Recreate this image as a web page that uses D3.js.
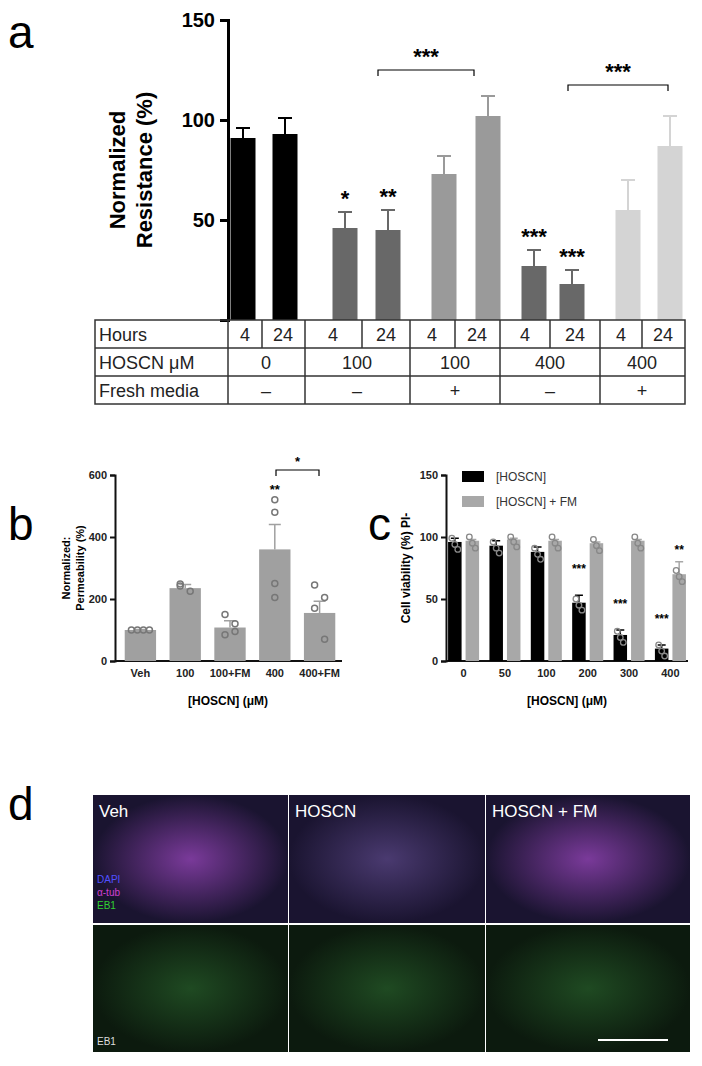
<!DOCTYPE html><html><head><meta charset="utf-8"><script src="https://cdn.jsdelivr.net/npm/d3@7"></script>
<style>body{margin:0;background:#fff}text{font-family:Arial,"Liberation Sans",sans-serif}</style></head><body><svg id="s" width="702" height="1066"></svg><script>
const aLabels=["4","24","4","24","4","24","4","24","4","24"];
const aValues=[91,93,46,45,73,102,27,18,55,87];
const aErr=[5,8,8,10,9,10,8,7,15,15];
const aStars=["","","*","**","","","***","***","",""];
const aColors=["#000","#000","#686868","#686868","#9a9a9a","#9a9a9a","#686868","#686868","#d4d4d4","#d4d4d4"];
const aTicks=[50,100,150];
const bCats=["Veh","100","100+FM","400","400+FM"];
const bValues=[100,235,108,360,155];
const bErr=[2,12,22,80,38];
const bPoints=[[100,100,100,100],[248,225,242],[150,120,85,95],[520,480,250,205],[245,205,170,70]];
const cCats=["0","50","100","200","300","400"];
const cBlack=[96,93,88,47,21,10];
const cGray=[97,98,97,95,97,70];
const cBlackErr=[3,4,4,6,4,3];
const cGrayErr=[1,1,1,1,1,10];
const cBlackStars=["","","","***","***","***"];
const cGrayStars=["","","","","","**"];
const svg=d3.select("#s");
function letter(t,x,y){svg.append("text").attr("x",x).attr("y",y).attr("font-size",46).attr("font-family","Calibri,Carlito,'Open Sans',sans-serif").text(t);}
letter("a",8,48);letter("b",8,540);letter("c",368,540);letter("d",8,820);
// Panel a
const ya=d3.scaleLinear().domain([0,150]).range([320,20]);
const xa=d3.scaleBand().domain(d3.range(10)).range([228,690]).paddingInner(0.3).paddingOuter(0.3);
const pos=[243,285,345,388,444,488,534,572,628,670];
const ga=svg.append("g").attr("transform","translate(228,0)");
ga.call(d3.axisLeft(ya).tickValues(aTicks).tickSize(8)).call(g=>{g.selectAll("path,line").attr("stroke","#000").attr("stroke-width",3);g.selectAll("text").attr("font-size",20).attr("font-weight","bold").attr("dx",-2);});
svg.append("text").attr("transform","translate(125,170) rotate(-90)").attr("text-anchor","middle").attr("font-size",22).attr("font-weight","bold").selectAll("tspan").data(["Normalized","Resistance (%)"]).join("tspan").attr("x",0).attr("dy",(d,i)=>i?27:0).text(d=>d);
aValues.forEach((v,i)=>{const x=pos[i],w=25;
 svg.append("line").attr("x1",x).attr("x2",x).attr("y1",ya(v)).attr("y2",ya(v+aErr[i])).attr("stroke",aColors[i]).attr("stroke-width",2);
 svg.append("line").attr("x1",x-7).attr("x2",x+7).attr("y1",ya(v+aErr[i])).attr("y2",ya(v+aErr[i])).attr("stroke",aColors[i]).attr("stroke-width",2);
 svg.append("rect").attr("x",x-w/2).attr("y",ya(v)).attr("width",w).attr("height",ya(0)-ya(v)).attr("fill",aColors[i]);
 if(aStars[i])svg.append("text").attr("x",x).attr("y",ya(v+aErr[i])-6).attr("text-anchor","middle").attr("font-size",22).attr("font-weight","bold").text(aStars[i]);
});
function bracket(x1,x2,y,t,fs,yo){svg.append("path").attr("d",`M${x1},${y+6}V${y}H${x2}V${y+6}`).attr("fill","none").attr("stroke","#000").attr("stroke-width",1.2);svg.append("text").attr("x",(x1+x2)/2).attr("y",y-yo).attr("text-anchor","middle").attr("font-size",fs).attr("font-weight","bold").text(t);}
bracket(378,474,70,"***",22,6);bracket(568,668,85,"***",22,6);
// table
const tb=svg.append("g").attr("stroke","#333").attr("stroke-width",1.5).attr("fill","none");
tb.append("rect").attr("x",95).attr("y",320).attr("width",590).attr("height",84);
[348,376].forEach(y=>tb.append("line").attr("x1",95).attr("x2",685).attr("y1",y).attr("y2",y));
[228,305,410,500,600].forEach(x=>tb.append("line").attr("x1",x).attr("x2",x).attr("y1",320).attr("y2",404));
[262,362,455,550,642].forEach(x=>tb.append("line").attr("x1",x).attr("x2",x).attr("y1",320).attr("y2",348));
const tf=s=>s.attr("font-size",18).attr("font-family","Calibri,Carlito,'Open Sans',sans-serif").attr("fill","#222");
[["Hours",341],["HOSCN μM",369],["Fresh media",397]].forEach(d=>tf(svg.append("text").attr("x",99).attr("y",d[1]).text(d[0])));
const cx=[245,283,333,386,432,477,525,575,621,663];
aLabels.forEach((l,i)=>tf(svg.append("text").attr("x",cx[i]).attr("y",341).attr("text-anchor","middle").text(l)));
[["0",266],["100",357],["100",455],["400",550],["400",642]].forEach(d=>tf(svg.append("text").attr("x",d[1]).attr("y",369).attr("text-anchor","middle").text(d[0])));
[["–",266],["–",357],["+",455],["–",550],["+",642]].forEach(d=>tf(svg.append("text").attr("x",d[1]).attr("y",397).attr("text-anchor","middle").text(d[0])));
// Panel b
const yb=d3.scaleLinear().domain([0,600]).range([661,475]);
const xb=d3.scaleBand().domain(bCats).range([118,342]).paddingInner(0.3).paddingOuter(0.15);
function styleAxis(g){g.selectAll("path,line").attr("stroke","#111").attr("stroke-width",2);g.selectAll("text").attr("font-size",11).attr("font-weight","bold").attr("fill","#222");}
svg.append("g").attr("transform","translate(115,0)").call(d3.axisLeft(yb).tickValues([0,200,400,600]).tickSize(5)).call(styleAxis);
svg.append("g").attr("transform","translate(0,661)").call(d3.axisBottom(xb).tickSize(0).tickPadding(8)).call(styleAxis).call(g=>g.select("path").attr("d","M115,0H342"));
bCats.forEach((c,i)=>{const x=xb(c),w=xb.bandwidth(),m=x+w/2,v=bValues[i];
 svg.append("rect").attr("x",x).attr("y",yb(v)).attr("width",w).attr("height",yb(0)-yb(v)).attr("fill","#a0a0a0");
 svg.append("path").attr("d",`M${m},${yb(v)}V${yb(v+bErr[i])}M${m-6},${yb(v+bErr[i])}H${m+6}`).attr("stroke","#a0a0a0").attr("stroke-width",1.5);
 bPoints[i].forEach((p,j)=>svg.append("circle").attr("cx",m+(bPoints[i].length>3&&i==0?(j-1.5)*6:(j%2?5:-5)*(i==3?0:1))).attr("cy",yb(p)).attr("r",3).attr("fill","none").attr("stroke","#777").attr("stroke-width",1.5));
});
svg.append("text").attr("x",xb("400")+xb.bandwidth()/2).attr("y",494).attr("text-anchor","middle").attr("font-size",13).attr("font-weight","bold").text("**");
bracket(276,319,470,"*",13,4);
svg.append("text").attr("transform","translate(70,568) rotate(-90)").attr("text-anchor","middle").attr("font-size",11).attr("font-weight","bold").selectAll("tspan").data(["Normalized:","Permeability (%)"]).join("tspan").attr("x",0).attr("dy",(d,i)=>i?14:0).text(d=>d);
svg.append("text").attr("x",228).attr("y",705).attr("text-anchor","middle").attr("font-size",12).attr("font-weight","bold").text("[HOSCN] (μM)");
// Panel c
const yc=d3.scaleLinear().domain([0,150]).range([661,475]);
const xc=d3.scaleBand().domain(cCats).range([446,688]).paddingInner(0.25).paddingOuter(0.05);
svg.append("g").attr("transform","translate(446,0)").call(d3.axisLeft(yc).tickValues([0,50,100,150]).tickSize(5)).call(styleAxis);
svg.append("g").attr("transform","translate(0,661)").call(d3.axisBottom(xc).tickSize(0).tickPadding(8)).call(styleAxis).call(g=>g.select("path").attr("d","M446,0H688"));
cCats.forEach((c,i)=>{const x=xc(c),bw=xc.bandwidth()/2-2;
 [[cBlack[i],cBlackErr[i],"#000",x,cBlackStars[i]],[cGray[i],cGrayErr[i],"#a8a8a8",x+bw+4,cGrayStars[i]]].forEach(([v,e,col,bx,st])=>{
  svg.append("rect").attr("x",bx).attr("y",yc(v)).attr("width",bw).attr("height",yc(0)-yc(v)).attr("fill",col);
  const m=bx+bw/2;
  svg.append("path").attr("d",`M${m},${yc(v)}V${yc(v+e)}M${m-4},${yc(v+e)}H${m+4}`).attr("stroke",col).attr("stroke-width",1.5);
  [v+3,v-2,v-6].forEach((p,j)=>svg.append("circle").attr("cx",m+(j-1)*3).attr("cy",yc(Math.min(p,100))).attr("r",2.8).attr("fill","none").attr("stroke","#888").attr("stroke-width",1.3));
  if(st)svg.append("text").attr("x",m).attr("y",yc(v+e)-(v<60?22:8)).attr("text-anchor","middle").attr("font-size",12).attr("font-weight","bold").text(st);
 });
});
svg.append("text").attr("transform","translate(410,568) rotate(-90)").attr("text-anchor","middle").attr("font-size",12).attr("font-weight","bold").text("Cell viability (%) PI-");
svg.append("text").attr("x",567).attr("y",705).attr("text-anchor","middle").attr("font-size",12).attr("font-weight","bold").text("[HOSCN] (μM)");
[["[HOSCN]","#000",480],["[HOSCN] + FM","#a8a8a8",505]].forEach(d=>{svg.append("rect").attr("x",462).attr("y",d[2]-9).attr("width",22).attr("height",11).attr("fill",d[1]);svg.append("text").attr("x",496).attr("y",d[2]+1).attr("font-size",12).attr("fill","#333").text(d[0]);});
// Panel d (micrographs approximated)
const defs=svg.append("defs");
const panels=[["Veh",0],["HOSCN",1],["HOSCN + FM",2]];
const px=[93,289,486],pw=[195,196,204];
panels.forEach(([t,i])=>{
 ["top","bot"].forEach((r,k)=>{
  const id=`g${i}${k}`;const gr=defs.append("radialGradient").attr("id",id);
  const col=k==0?(i==1?"#4a3a70":"#7a3a9a"):"#1f4a22";
  gr.append("stop").attr("offset","0%").attr("stop-color",col);gr.append("stop").attr("offset","100%").attr("stop-color",k==0?"#1a1430":"#0c1a0e");
  svg.append("rect").attr("x",px[i]).attr("y",k?925:795).attr("width",pw[i]).attr("height",k?127:128).attr("fill",`url(#${id})`);
 });
 svg.append("text").attr("x",px[i]+6).attr("y",817).attr("fill","#fff").attr("font-size",17).attr("font-family","Calibri,Carlito,'Open Sans',sans-serif").text(t);
});
[["DAPI","#5050ff",883],["α-tub","#d040d0",896],["EB1","#30d030",909]].forEach(d=>svg.append("text").attr("x",97).attr("y",d[2]).attr("fill",d[1]).attr("font-size",10).text(d[0]));
svg.append("text").attr("x",97).attr("y",1045).attr("fill","#ddd").attr("font-size",10).text("EB1");
svg.append("line").attr("x1",598).attr("x2",668).attr("y1",1040).attr("y2",1040).attr("stroke","#fff").attr("stroke-width",2);
</script></body></html>
